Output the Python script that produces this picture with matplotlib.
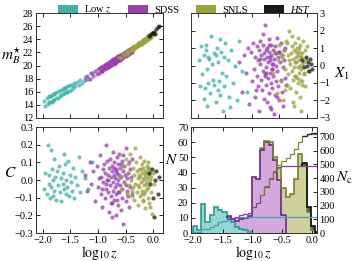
import numpy as np
import matplotlib.pyplot as plt
from matplotlib.patches import Patch

plt.rcParams['font.family'] = ['Liberation Serif', 'DejaVu Serif']
plt.rcParams['mathtext.fontset'] = 'stix'
plt.rcParams['font.size'] = 7.5

# ---- supernova samples (log10 z, m_B*, X1, C) ----
lowz_logz = [-1.97, -1.95, -1.93, -1.91, -1.89, -1.88, -1.86, -1.85, -1.84, -1.83,
             -1.82, -1.81, -1.80, -1.79, -1.78, -1.76, -1.74, -1.72, -1.70, -1.69,
             -1.67, -1.66, -1.64, -1.63, -1.62, -1.61, -1.59, -1.58, -1.57, -1.55,
             -1.54, -1.52, -1.51, -1.49, -1.47, -1.45, -1.43, -1.41, -1.38, -1.35,
             -1.32, -1.28, -1.24, -1.18, -1.10]
lowz_mb = [14.6, 13.9, 15.0, 14.2, 15.3, 14.4, 15.4, 14.5, 15.3, 14.5,
           15.6, 14.7, 15.6, 14.8, 15.8, 15.0, 15.9, 15.1, 16.1, 15.3,
           16.2, 15.5, 16.4, 15.6, 16.5, 15.8, 16.6, 15.9, 16.7, 16.0,
           16.8, 16.1, 17.0, 16.3, 17.1, 16.5, 17.3, 16.8, 17.5, 17.0,
           17.8, 17.4, 18.2, 17.9, 18.9]
lowz_x1 = [0.3, -1.2, 1.1, -0.5, -1.9, 0.6, -1.3, 0.9, 1.2, -0.2,
           -2.3, 0.5, -1.0, 0.4, -1.6, 1.7, 0.1, -0.8, 0.7, -1.1,
           0.6, -2.1, 1.0, -1.4, 0.2, -0.9, 1.5, -1.7, 0.8, -0.4,
           -2.6, 0.5, -1.2, 1.3, -0.6, 0.3, -1.8, -2.4, 0.9, -1.0,
           0.0, -2.0, 1.4, -0.3, -1.5]
lowz_c = [-0.05, 0.04, -0.08, 0.20, -0.02, 0.03, -0.10, 0.17, -0.04, 0.06,
          -0.09, 0.00, 0.12, -0.06, 0.02, -0.11, 0.05, -0.03, 0.08, -0.07,
          0.01, -0.12, 0.04, -0.02, 0.15, -0.05, 0.09, -0.08, 0.00, -0.04,
          0.11, -0.09, 0.03, -0.01, -0.06, 0.07, -0.10, 0.02, -0.03, 0.13,
          -0.07, 0.05, 0.01, -0.05, 0.10]

sdss_logz = [-1.24, -1.19, -1.15, -1.12, -1.08, -1.05, -1.02, -1.00, -0.98, -0.97,
             -0.95, -0.94, -0.92, -0.91, -0.90, -0.89, -0.88, -0.87, -0.86, -0.85,
             -0.84, -0.83, -0.82, -0.81, -0.80, -0.79, -0.78, -0.78, -0.77, -0.76,
             -0.75, -0.75, -0.74, -0.73, -0.73, -0.72, -0.71, -0.71, -0.70, -0.69,
             -0.69, -0.68, -0.67, -0.67, -0.66, -0.65, -0.65, -0.64, -0.63, -0.63,
             -0.62, -0.61, -0.60, -0.60, -0.59, -0.58, -0.57, -0.57, -0.56, -0.55,
             -0.54, -0.53, -0.52, -0.51, -0.50, -0.49, -0.48, -0.47, -0.46, -0.45,
             -0.44, -0.43, -0.42, -0.41, -0.40, -0.39, -0.38, -0.86, -0.74, -0.70,
             -0.66, -0.62, -0.58, -0.93, -0.81, -0.77, -0.68, -0.64, -0.55, -0.50]
sdss_mb = [17.8, 18.4, 18.0, 18.8, 18.4, 19.2, 18.7, 19.5, 18.9, 19.6,
           19.1, 19.8, 19.2, 19.9, 19.4, 20.0, 19.5, 20.1, 19.6, 20.2,
           19.7, 20.3, 19.8, 20.4, 19.9, 20.5, 20.0, 20.6, 20.1, 20.7,
           20.2, 20.8, 20.2, 20.9, 20.3, 21.0, 20.4, 20.9, 20.5, 21.1,
           20.4, 21.1, 20.6, 21.2, 20.7, 21.3, 20.7, 21.4, 20.8, 21.4,
           20.9, 21.5, 20.9, 21.6, 21.0, 21.6, 21.1, 21.7, 21.2, 21.8,
           21.3, 21.9, 21.4, 22.0, 21.5, 22.1, 21.6, 22.2, 21.7, 22.3,
           21.8, 22.4, 21.9, 22.5, 22.0, 22.6, 22.1, 20.2, 20.8, 20.3,
           21.2, 20.8, 21.2, 19.2, 19.8, 20.6, 20.5, 20.9, 21.7, 22.0]
sdss_x1 = [0.2, -1.5, 0.6, -0.4, 1.0, -2.2, 0.8, -0.9, 1.3, -0.2,
           0.5, -1.8, 1.1, -0.6, 0.3, -1.2, 0.9, -2.6, 0.1, 1.4,
           -0.8, 0.6, -1.4, 1.2, -0.3, 0.7, -1.9, 0.4, -0.5, 2.3,
           -1.1, 0.9, -0.1, -2.1, 0.5, 1.0, -0.7, 0.2, -1.6, 0.8,
           1.5, -0.4, -2.4, 0.3, -1.0, 0.6, 1.2, -0.2, -1.3, 0.1,
           0.9, -0.6, -2.8, 0.4, 1.1, -1.7, 0.0, 0.7, -0.9, 1.6,
           -0.3, 0.5, -1.2, -2.0, 0.8, 0.2, -0.8, 1.3, -1.5, 0.6,
           -0.1, -2.3, 0.9, 0.3, -0.7, 1.0, -1.1, 0.4, -0.4, 1.2,
           -2.5, 0.1, 0.7, -1.4, 1.8, -0.6, 0.5, -0.2, -1.8, 0.8]
sdss_c = [0.03, -0.06, 0.10, -0.02, 0.05, -0.12, 0.08, -0.04, 0.01, 0.14,
          -0.08, 0.02, -0.15, 0.06, -0.01, 0.09, -0.10, 0.04, 0.20, -0.05,
          0.00, 0.11, -0.07, 0.03, -0.18, 0.07, -0.03, 0.12, -0.09, 0.02,
          0.05, -0.13, 0.08, -0.01, 0.16, -0.06, 0.03, -0.11, 0.10, -0.04,
          0.01, -0.20, 0.06, -0.08, 0.13, -0.02, 0.04, -0.14, 0.09, 0.00,
          -0.07, 0.15, -0.03, 0.07, -0.17, 0.02, -0.10, 0.11, -0.05, 0.05,
          -0.25, 0.08, -0.01, 0.03, -0.12, 0.18, -0.06, 0.01, -0.09, 0.04,
          0.10, -0.15, 0.06, -0.04, 0.02, -0.08, 0.12, -0.02, -0.21, 0.07,
          -0.11, 0.03, 0.09, -0.05, 0.00, -0.13, 0.05, -0.07, 0.14, -0.03]

snls_logz = [-0.62, -0.58, -0.55, -0.52, -0.50, -0.48, -0.46, -0.44, -0.42, -0.40,
             -0.38, -0.37, -0.35, -0.34, -0.33, -0.31, -0.30, -0.29, -0.28, -0.27,
             -0.26, -0.25, -0.24, -0.23, -0.23, -0.22, -0.21, -0.20, -0.20, -0.19,
             -0.18, -0.18, -0.17, -0.16, -0.16, -0.15, -0.14, -0.14, -0.13, -0.12,
             -0.12, -0.11, -0.10, -0.10, -0.09, -0.08, -0.07, -0.06, -0.05, -0.04,
             -0.03, -0.02, 0.00, 0.02, -0.45, -0.39, -0.32, -0.27, -0.22, -0.19,
             -0.17, -0.15, -0.13, -0.11, -0.09, -0.21, -0.25, -0.36, -0.08, -0.06]
snls_mb = [21.3, 21.2, 21.7, 21.6, 22.0, 21.8, 22.2, 22.0, 22.5, 22.3,
           22.7, 22.4, 22.9, 22.6, 23.0, 22.8, 23.2, 22.9, 23.3, 23.0,
           23.4, 23.2, 23.5, 23.3, 23.6, 23.4, 23.7, 23.5, 23.8, 23.6,
           23.9, 23.6, 23.9, 23.7, 24.0, 23.8, 24.1, 23.9, 24.2, 24.0,
           24.3, 24.0, 24.4, 24.1, 24.5, 24.2, 24.6, 24.3, 24.7, 24.4,
           24.8, 24.6, 24.9, 24.8, 21.9, 22.6, 22.7, 23.4, 23.3, 23.9,
           23.6, 24.1, 23.8, 24.3, 24.1, 23.3, 23.5, 22.8, 24.5, 24.2]
snls_x1 = [-0.4, 0.8, -1.6, 0.3, 1.2, -0.9, 0.5, -2.0, 0.9, -0.2,
           1.4, -1.1, 0.6, -0.5, 2.0, 0.1, -1.3, 0.7, -0.3, 1.1,
           -0.8, 0.4, -2.3, 0.9, -0.1, 1.3, -0.6, 0.5, -1.5, 0.2,
           1.0, -0.7, 0.6, -1.0, 1.6, 0.3, -0.4, 0.8, -1.8, 0.0,
           1.2, -0.2, 0.5, -2.6, 0.7, -0.9, 1.4, 0.2, -0.5, 0.9,
           -1.2, 0.4, 1.1, -0.3, 0.6, -1.4, 0.3, 1.7, -0.6, 0.8,
           -0.1, 1.0, -0.8, 0.5, -1.1, 0.2, -2.1, 1.3, 0.1, -0.4]
snls_c = [0.02, -0.05, 0.08, -0.01, 0.12, -0.08, 0.04, -0.03, 0.15, 0.00,
          -0.06, 0.07, -0.11, 0.03, -0.02, 0.10, -0.07, 0.05, -0.14, 0.01,
          0.06, -0.04, 0.13, -0.09, 0.02, -0.01, 0.09, -0.06, 0.04, -0.12,
          0.00, 0.07, -0.03, 0.11, -0.08, 0.03, -0.16, 0.05, -0.02, 0.08,
          -0.05, 0.01, -0.10, 0.06, -0.04, 0.03, -0.13, 0.00, 0.05, -0.07,
          0.02, -0.19, 0.04, -0.02, 0.09, -0.09, 0.18, -0.03, 0.06, -0.11,
          0.01, -0.06, 0.04, -0.01, 0.10, -0.08, 0.03, -0.04, 0.07, -0.15]

hst_logz = [-0.08, -0.05, -0.02, 0.00, 0.02, 0.04, 0.06, 0.08, 0.10]
hst_mb = [24.5, 24.7, 24.9, 25.0, 25.1, 24.8, 25.6, 25.9, 26.0]
hst_x1 = [0.3, -0.1, 0.5, 0.0, 0.2, -0.3, 0.4, 0.1, -0.2]
hst_c = [0.04, -0.02, 0.06, -0.10, -0.21, 0.00, 0.05, -0.08, 0.02]

# ---- histogram counts per log10 z bin ----
bin_edges = np.linspace(-2.0, 0.12, 31)
lowz_hist = [5, 2, 19, 7, 12, 17, 15, 14, 10, 7, 4, 3, 2, 1, 0,
             0, 0, 0, 0, 0, 0, 0, 0, 0, 0, 0, 0, 0, 0, 0]
sdss_hist = [0, 0, 0, 0, 0, 0, 0, 0, 1, 2, 4, 6, 8, 10, 37,
             36, 55, 60, 58, 48, 35, 12, 0, 0, 0, 0, 0, 0, 0, 0]
snls_hist = [0, 0, 0, 0, 0, 0, 0, 0, 0, 0, 0, 0, 0, 0, 0,
             0, 1, 1, 2, 2, 8, 18, 24, 26, 36, 52, 44, 14, 2, 0]
hst_hist = [0, 0, 0, 0, 0, 0, 0, 0, 0, 0, 0, 0, 0, 0, 0,
            0, 0, 0, 0, 0, 0, 0, 0, 0, 0, 0, 2, 3, 3, 1]

labels = ['Low $z$', 'SDSS', 'SNLS', 'HST']
colors = ['#3fb3a9', '#9a3fae', '#9aa33d', '#1a1a1a']
fills = ['#93d8d0', '#d4a9dd', '#cfd09a', '#555555']
edges_c = ['#2a9a94', '#6c2580', '#76802a', '#111111']
cum_c = ['#4a9db5', '#8a3a9c', '#7c8a30', '#222222']

samples = [(lowz_logz, lowz_mb, lowz_x1, lowz_c),
           (sdss_logz, sdss_mb, sdss_x1, sdss_c),
           (snls_logz, snls_mb, snls_x1, snls_c),
           (hst_logz, hst_mb, hst_x1, hst_c)]
hists = [lowz_hist, sdss_hist, snls_hist, hst_hist]

fig = plt.figure(figsize=(3.53, 2.61), dpi=100)
ax_m = fig.add_axes([0.102, 0.548, 0.360, 0.402])
ax_x = fig.add_axes([0.541, 0.548, 0.356, 0.402])
ax_c = fig.add_axes([0.102, 0.107, 0.360, 0.406])
ax_h = fig.add_axes([0.541, 0.107, 0.356, 0.406])

for (lz, mb, x1, c), col in zip(samples, colors):
    ax_m.scatter(lz, mb, s=9, color=col, alpha=0.75, lw=0)
    ax_x.scatter(lz, x1, s=9, color=col, alpha=0.75, lw=0)
    ax_c.scatter(lz, c, s=9, color=col, alpha=0.75, lw=0)

for ax in (ax_m, ax_x, ax_c):
    ax.set_xlim(-2.12, 0.18)
    ax.set_xticks([-2.0, -1.5, -1.0, -0.5, 0.0])
    ax.tick_params(direction='in', top=True, right=True, length=3, width=0.6, pad=2)

ax_m.set_ylim(12, 28)
ax_m.set_yticks(range(12, 29, 2))
ax_m.tick_params(labelbottom=False)
ax_m.set_ylabel(r'$m_B^{\star}$', fontsize=11, rotation=0)
ax_m.yaxis.set_label_coords(-0.19, 0.5)

ax_x.set_ylim(-3, 3)
ax_x.set_yticks(range(-3, 4))
ax_x.tick_params(labelbottom=False, labelleft=False, labelright=True)
ax_x.yaxis.set_label_position('right')
ax_x.set_ylabel(r'$X_1$', fontsize=11, rotation=0)
ax_x.yaxis.set_label_coords(1.2, 0.5)

ax_c.set_ylim(-0.3, 0.3)
ax_c.set_yticks(np.arange(-0.3, 0.31, 0.1))
ax_c.set_ylabel(r'$C$', fontsize=11, rotation=0)
ax_c.yaxis.set_label_coords(-0.2, 0.5)
ax_c.set_xlabel(r'$\log_{10} z$', fontsize=10)
ax_c.xaxis.set_label_coords(0.5, -0.1)

# stacked histogram
ax_n = ax_h.twinx()
bottom = np.zeros(len(bin_edges) - 1)
for counts, fc, ec, cc in zip(hists, fills, edges_c, cum_c):
    counts = np.array(counts, dtype=float)
    top = bottom + counts
    nz = np.nonzero(counts)[0]
    i0, i1 = nz[0], nz[-1] + 1
    e = bin_edges[i0:i1 + 1]
    ax_h.stairs(top[i0:i1], e, baseline=bottom[i0:i1], fill=True, color=fc, lw=0, zorder=1)
    ax_h.stairs(top[i0:i1], e, baseline=None, color=ec, lw=1.2, zorder=2)
    ax_h.vlines([e[0], e[-1]], [bottom[i0], bottom[i1 - 1]], [top[i0], top[i1 - 1]],
                color=ec, lw=1.2, zorder=2)
    cum = np.cumsum(top)
    ax_n.stairs(cum[i0:], bin_edges[i0:], baseline=None, color=cc, lw=0.9)
    bottom = top

ax_h.set_xlim(-2.03, 0.075)
ax_h.set_ylim(0, 70)
ax_h.set_xticks([-2.0, -1.5, -1.0, -0.5, 0.0])
ax_h.set_yticks(range(0, 71, 10))
ax_h.tick_params(direction='in', top=True, length=3, width=0.6, pad=2)
ax_h.set_ylabel(r'$N$', fontsize=11, rotation=0)
ax_h.yaxis.set_label_coords(-0.15, 0.62)
ax_h.set_xlabel(r'$\log_{10} z$', fontsize=10)
ax_h.xaxis.set_label_coords(0.5, -0.1)
ax_n.set_ylim(0, 770)
ax_n.set_yticks(range(0, 701, 100))
ax_n.tick_params(direction='in', length=3, width=0.6, pad=2)
ax_n.set_ylabel(r'$N_{\rm c}$', fontsize=11, rotation=0)
ax_n.yaxis.set_label_coords(1.22, 0.6)

for ax in (ax_m, ax_x, ax_c, ax_h, ax_n):
    for sp in ax.spines.values():
        sp.set_color('#333333')
        sp.set_linewidth(0.7)

handles = [Patch(facecolor=col, edgecolor='none') for col in colors]
leg = fig.legend(handles, labels, loc='upper center', bbox_to_anchor=(0.52, 1.02),
                 ncol=4, frameon=False, handlelength=1.9, handleheight=0.75,
                 columnspacing=1.6, handletextpad=0.6, fontsize=7.5)
leg.get_texts()[3].set_style('italic')

fig.savefig('out.png', dpi=100)
